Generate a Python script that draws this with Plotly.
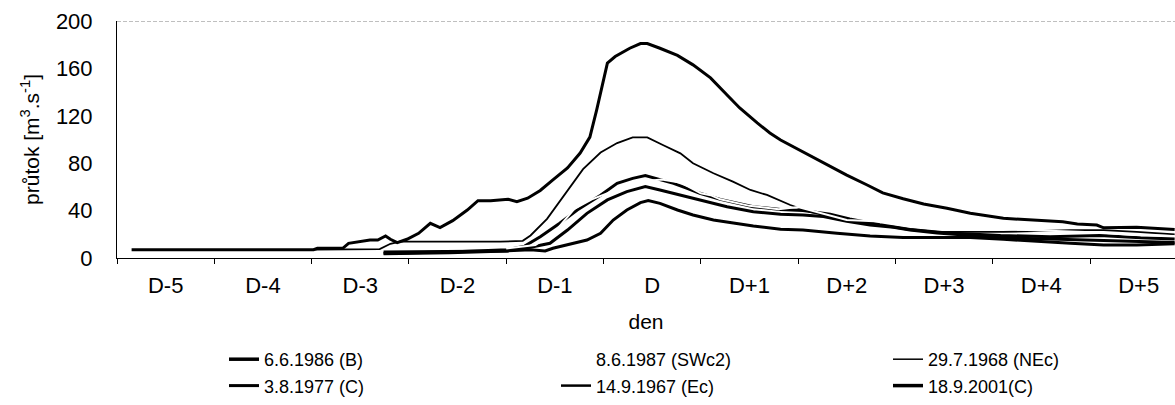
import plotly.graph_objects as go

# day offsets relative to flood day D (0 = D), discharge in m3/s
day_labels = ["D-5", "D-4", "D-3", "D-2", "D-1", "D", "D+1", "D+2", "D+3", "D+4", "D+5"]
day_pos = [-5, -4, -3, -2, -1, 0, 1, 2, 3, 4, 5]

names = ["6.6.1986 (B)", "8.6.1987 (SWc2)", "29.7.1968 (NEc)",
         "3.8.1977 (C)", "14.9.1967 (Ec)", "18.9.2001(C)"]

# 6.6.1986 (B) - highest peak
t_1986 = [-5.35, -4.65, -4.03, -3.48, -3.44, -3.18, -3.12, -3.03, -2.90, -2.82, -2.74, -2.69, -2.62,
          -2.52, -2.40, -2.28, -2.18, -2.05, -1.90, -1.79, -1.66, -1.48, -1.39, -1.28, -1.15, -1.02,
          -0.87, -0.74, -0.64, -0.57, -0.51, -0.46, -0.38, -0.23, -0.12, -0.05, 0.08, 0.26, 0.42,
          0.60, 0.77, 0.90, 1.08, 1.21, 1.32, 1.52, 1.65, 1.80, 2.00, 2.21, 2.37, 2.58, 2.79, 3.03,
          3.27, 3.61, 3.96, 4.22, 4.37, 4.57, 4.64, 4.98, 5.37]
q_1986 = [7.0, 7.0, 7.0, 7.0, 8.2, 8.2, 12.4, 13.8, 15.2, 15.2, 18.6, 15.8, 13.0,
          15.8, 20.8, 29.3, 25.6, 31.5, 40.5, 48.4, 48.4, 49.5, 47.5, 50.5, 57.0, 66.0,
          76.0, 88.6, 102.0, 125.0, 147.5, 164.5, 170.0, 177.0, 181.0, 181.0, 177.0, 171.0, 163.0,
          152.0, 137.5, 126.6, 114.0, 105.5, 99.6, 91.0, 85.5, 78.5, 70.0, 61.6, 55.0, 50.0, 45.6, 42.0,
          37.7, 33.5, 32.0, 30.6, 28.7, 27.8, 25.5, 26.0, 24.0]

# 29.7.1968 (NEc) - thin line, peak ~100
t_1968 = [-3.48, -2.80, -2.69, -2.59, -2.08, -1.56, -1.33, -1.25, -1.08, -0.87, -0.71, -0.53, -0.36,
          -0.20, -0.05, 0.11, 0.29, 0.42, 0.63, 0.83, 1.01, 1.18, 1.32, 1.42, 1.62, 1.83, 2.07, 2.34,
          2.58, 2.93, 3.61, 4.30, 4.64, 4.98, 5.37]
q_1968 = [7.0, 7.5, 12.0, 13.8, 13.8, 13.8, 14.5, 19.0, 33.0, 57.0, 75.0, 89.0, 97.0,
          101.8, 101.8, 95.4, 88.3, 80.0, 71.5, 64.4, 57.4, 53.2, 48.5, 44.7, 39.0, 34.9, 30.6, 27.8,
          25.0, 22.0, 22.0, 23.6, 23.6, 22.0, 20.0]

# 3.8.1977 (C) - peak ~69
t_1977 = [-2.76, -2.08, -1.49, -1.31, -1.15, -0.95, -0.77, -0.64, -0.53, -0.36, -0.20, -0.07, 0.08,
          0.22, 0.36, 0.49, 0.70, 0.90, 1.04, 1.32, 1.55, 1.83, 2.03, 2.34, 2.65, 3.06, 3.58, 4.09,
          4.60, 5.02, 5.37]
q_1977 = [4.0, 5.0, 7.0, 10.0, 18.0, 29.3, 40.5, 47.5, 53.0, 63.0, 67.2, 69.5, 66.4,
          63.0, 58.8, 54.6, 49.5, 46.1, 43.3, 41.0, 40.0, 37.0, 33.0, 28.0, 24.0, 21.0, 19.0, 18.0,
          19.0, 17.0, 16.0]

# 14.9.1967 (Ec) - peak ~60
t_1967 = [-2.76, -2.08, -1.49, -1.25, -1.05, -0.87, -0.67, -0.46, -0.26, -0.07, 0.08, 0.29, 0.49,
          0.77, 1.04, 1.32, 1.55, 1.76, 2.00, 2.24, 2.48, 2.65, 2.93, 3.58, 4.09, 4.60, 5.02, 5.37]
q_1967 = [3.5, 4.5, 6.0, 9.0, 12.4, 23.6, 37.7, 49.0, 56.0, 60.2, 57.4, 53.2, 49.0,
          43.3, 39.0, 37.0, 36.3, 35.0, 31.0, 27.8, 25.9, 23.6, 21.0, 17.0, 16.0, 15.0, 14.0, 13.0]

# 18.9.2001(C) - peak ~48
t_2001 = [-2.76, -2.08, -1.49, -1.25, -1.10, -1.02, -0.87, -0.67, -0.53, -0.40, -0.26, -0.12, -0.04,
          0.08, 0.26, 0.42, 0.63, 0.83, 1.04, 1.32, 1.55, 1.90, 2.24, 2.58, 3.27, 3.61, 3.96, 4.30,
          4.64, 4.98, 5.37]
q_2001 = [5.0, 5.5, 6.0, 7.0, 6.0, 8.2, 11.0, 15.2, 20.8, 32.0, 40.5, 46.7, 48.4,
          46.1, 40.5, 36.3, 32.0, 29.3, 27.0, 24.2, 23.6, 20.8, 18.6, 17.4, 17.4, 15.8, 13.8, 12.4,
          11.0, 11.0, 12.0]

# 8.6.1987 (SWc2) - printed white, only visible where it cuts through other lines
t_1987 = [-1.50, -1.20, -1.00, -0.80, -0.62, -0.45, -0.20, 0.00, 0.10, 0.30, 0.50, 0.60, 0.70,
          1.00, 1.30, 1.50, 1.72, 2.00, 2.40, 3.00, 3.85, 4.60, 4.95, 5.20, 5.37]
q_1987 = [8.0, 11.0, 22.0, 41.5, 49.5, 55.0, 64.0, 65.5, 66.2, 63.5, 54.6, 53.0, 49.5,
          44.0, 41.2, 43.0, 38.0, 32.0, 30.5, 26.0, 23.6, 21.5, 19.4, 18.6, 18.5]

series = [
    # (name, t, q, width, color, legendrank)
    (names[0], t_1986, q_1986, 3.0, "black", 1),
    (names[2], t_1968, q_1968, 1.8, "black", 3),
    (names[3], t_1977, q_1977, 3.0, "black", 4),
    (names[4], t_1967, q_1967, 3.0, "black", 5),
    (names[5], t_2001, q_2001, 3.0, "black", 6),
    (names[1], t_1987, q_1987, 2.0, "white", 2),
]
legend_widths = {names[0]: 3.5, names[1]: 2.0, names[2]: 1.5, names[3]: 3.0,
                 names[4]: 2.5, names[5]: 3.5}

fig = go.Figure()
for name, t, q, w, c, rank in series:
    fig.add_trace(go.Scatter(x=t, y=q, mode="lines", name=name,
                             line=dict(color=c, width=w, shape="linear"),
                             legendrank=rank, showlegend=False, hoverinfo="skip"))
# legend entries (drawn with the printed sample widths)
for name, t, q, w, c, rank in series:
    fig.add_trace(go.Scatter(x=[None], y=[None], mode="lines", name=name,
                             line=dict(color=c, width=legend_widths[name]),
                             legendrank=rank, showlegend=True))

FONT = "Liberation Sans, Arial, sans-serif"
x_lo = -5.5
x_hi = -5.5 + (1175 - 117) / 97.3

fig.update_layout(
    width=1175, height=405,
    margin=dict(l=117, r=0, t=21, b=147),
    paper_bgcolor="white", plot_bgcolor="white",
    font=dict(family=FONT, color="black", size=21),
    showlegend=True,
    legend=dict(orientation="h", xref="container", yref="container",
                x=224 / 1175, xanchor="left", y=1 - 341 / 405, yanchor="top",
                font=dict(family=FONT, size=18, color="black"),
                entrywidth=287, entrywidthmode="pixels",
                traceorder="normal", bgcolor="rgba(0,0,0,0)"),
    xaxis=dict(range=[x_lo, x_hi], tickmode="array", tickvals=day_pos, ticktext=day_labels,
               ticks="", showgrid=False, zeroline=False,
               showline=True, linecolor="black", linewidth=1,
               tickfont=dict(family=FONT, size=22, color="black"),
               ticklabelstandoff=8,
               minor=dict(tickmode="array", tickvals=[p + 0.5 for p in [-6] + day_pos],
                          ticks="outside", ticklen=5, tickcolor="black", tickwidth=1, showgrid=False),
               title=dict(text="den", font=dict(family=FONT, size=21, color="black"), standoff=16)),
    yaxis=dict(range=[0, 200], tickmode="array", tickvals=[0, 40, 80, 120, 160, 200],
               ticks="", showgrid=False, zeroline=False,
               showline=True, linecolor="black", linewidth=1,
               tickfont=dict(family=FONT, size=22, color="black"),
               ticklabelstandoff=19,
               title=dict(text="průtok [m<sup>3</sup>.s<sup>-1</sup>]",
                          font=dict(family=FONT, size=21, color="black"), standoff=10)),
)
# dashed grey frame line along the top of the plot area
fig.add_shape(type="line", xref="paper", yref="y", x0=0, x1=1, y0=200, y1=200,
              line=dict(color="#808080", width=1.2, dash="4px,2px"))

fig.write_html("out.html")
